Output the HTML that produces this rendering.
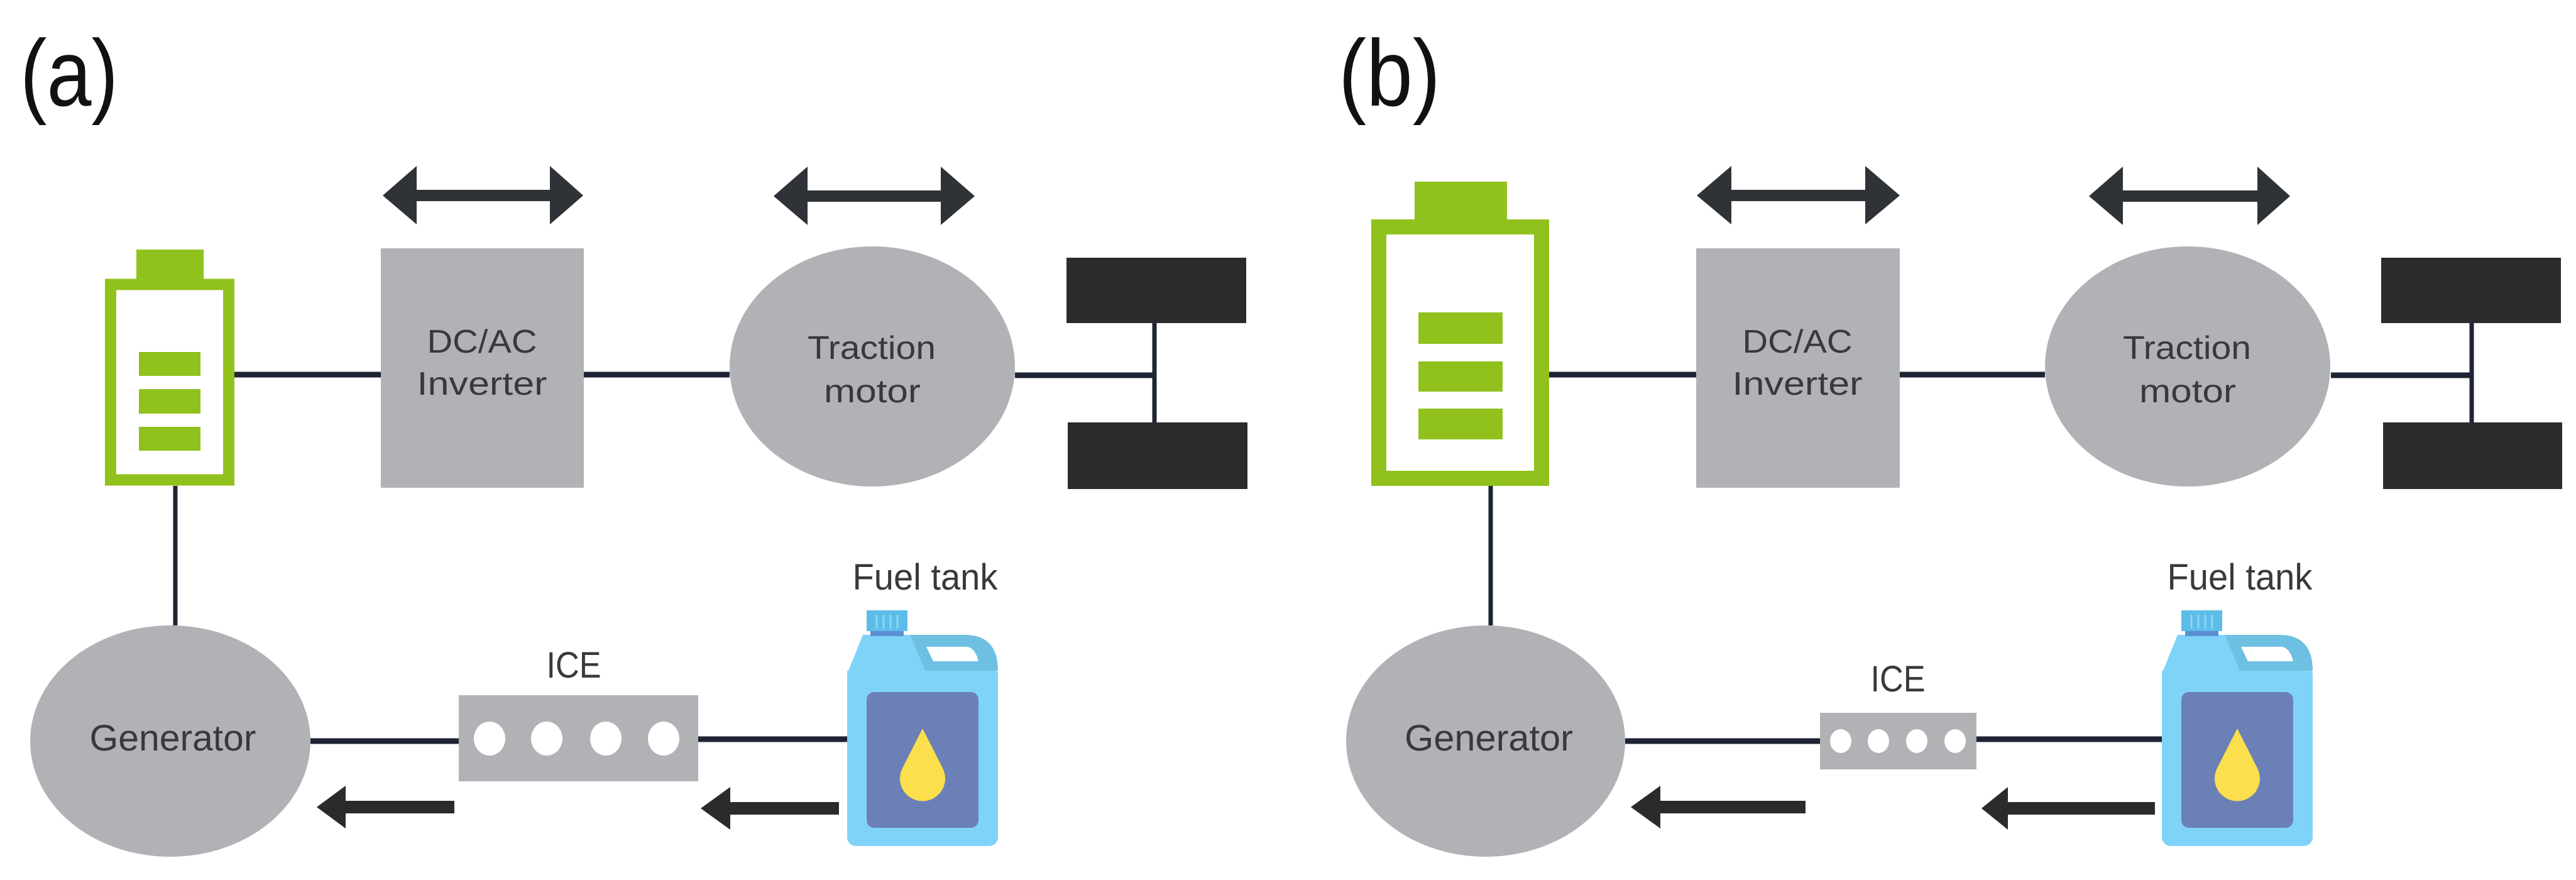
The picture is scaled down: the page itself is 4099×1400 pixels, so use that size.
<!DOCTYPE html>
<html><head><meta charset="utf-8"><style>
html,body{margin:0;padding:0;background:#fff;}
svg{display:block;}
text{font-family:"Liberation Sans",sans-serif;fill:#38393b;}
</style></head><body>
<svg width="4099" height="1400" viewBox="0 0 4099 1400" xmlns="http://www.w3.org/2000/svg">
<rect width="4099" height="1400" fill="#fff"/>
<defs>
<g id="tank">
  <rect x="1348" y="1060" width="240" height="286" rx="14" fill="#80d3f8"/>
  <polygon points="1348,1072 1373,1010 1450,1010 1472,1067 1348,1067" fill="#80d3f8"/>
  <path d="M1448,1010 L1535,1010 Q1588,1010 1588,1067 L1472,1067 Z" fill="#6ec0e2"/>
  <path d="M1474,1029 L1540,1029 Q1552,1032 1557,1052 L1485,1052 Z" fill="#fff"/>
  <rect x="1385" y="1003" width="53" height="9" fill="#5b8fd0"/>
  <rect x="1379" y="971" width="65" height="33" fill="#5dbde9"/>
  <g stroke="#8dd5f5" stroke-width="3">
    <line x1="1395" y1="978" x2="1395" y2="1000"/><line x1="1406" y1="978" x2="1406" y2="1000"/>
    <line x1="1417" y1="978" x2="1417" y2="1000"/><line x1="1428" y1="978" x2="1428" y2="1000"/>
  </g>
  <rect x="1379" y="1101" width="178" height="216" rx="12" fill="#6b80b6"/>
  <path d="M1468,1159 L1436,1222 A36,36 0 1 0 1500,1222 Z" fill="#fbdf4c"/>
</g>
</defs>

<!-- ========== PANEL A ========== -->
<text x="32" y="168" font-size="150" textLength="156" lengthAdjust="spacingAndGlyphs" style="fill:#111">(a)</text>

<!-- double arrows -->
<polygon points="609,311 663,264 663,302 875,302 875,264 928,311 875,357 875,320 663,320 663,357" fill="#2f3236"/>
<polygon points="1231,312 1285,265 1285,303 1497,303 1497,265 1551,312 1497,358 1497,321 1285,321 1285,358" fill="#2f3236"/>

<!-- connecting lines -->
<g stroke="#1e2434" stroke-width="9">
  <line x1="373" y1="596" x2="606" y2="596"/>
  <line x1="929" y1="596" x2="1161" y2="596"/>
  <line x1="1615" y1="597" x2="1837" y2="597"/>
  <line x1="494" y1="1179" x2="730" y2="1179"/>
  <line x1="1111" y1="1176" x2="1348" y2="1176"/>
</g>
<g stroke="#1e2434" stroke-width="7">
  <line x1="279" y1="773" x2="279" y2="995"/>
  <line x1="1837" y1="512" x2="1837" y2="674"/>
</g>

<!-- battery a -->
<rect x="217" y="397" width="107" height="47" fill="#90c11c"/>
<rect x="176" y="452.5" width="188" height="311" fill="none" stroke="#90c11c" stroke-width="18"/>
<rect x="221" y="560" width="98" height="38" fill="#90c11c"/>
<rect x="221" y="619" width="98" height="39" fill="#90c11c"/>
<rect x="221" y="679" width="98" height="38" fill="#90c11c"/>

<!-- inverter a -->
<rect x="606" y="395" width="323" height="381" fill="#b1b2b6"/>
<text x="767" y="561" font-size="52" text-anchor="middle" textLength="175" lengthAdjust="spacingAndGlyphs">DC/AC</text>
<text x="767" y="628" font-size="52" text-anchor="middle" textLength="207" lengthAdjust="spacingAndGlyphs">Inverter</text>

<!-- motor a -->
<ellipse cx="1388" cy="583" rx="227" ry="191" fill="#b1b2b6"/>
<text x="1387" y="571" font-size="52" text-anchor="middle" textLength="204" lengthAdjust="spacingAndGlyphs">Traction</text>
<text x="1388" y="640" font-size="52" text-anchor="middle" textLength="154" lengthAdjust="spacingAndGlyphs">motor</text>

<!-- wheels a -->
<rect x="1697" y="410" width="286" height="104" fill="#2b2b2b"/>
<rect x="1699" y="672" width="286" height="106" fill="#2b2b2b"/>

<!-- generator a -->
<ellipse cx="271" cy="1179" rx="223" ry="184" fill="#b1b2b6"/>
<text x="275" y="1194" font-size="58" text-anchor="middle" textLength="265" lengthAdjust="spacingAndGlyphs">Generator</text>

<!-- ICE a -->
<text x="913" y="1078" font-size="58" text-anchor="middle" textLength="87" lengthAdjust="spacingAndGlyphs">ICE</text>
<rect x="730" y="1106" width="381" height="137" fill="#b1b2b6"/>
<g fill="#fff">
  <ellipse cx="779" cy="1175" rx="25" ry="27"/><ellipse cx="870" cy="1175" rx="25" ry="27"/>
  <ellipse cx="964" cy="1175" rx="25" ry="27"/><ellipse cx="1056" cy="1175" rx="25" ry="27"/>
</g>

<!-- fuel tank a -->
<text x="1472" y="938" font-size="58" text-anchor="middle" textLength="231" lengthAdjust="spacingAndGlyphs">Fuel tank</text>
<use href="#tank"/>

<!-- flow arrows a -->
<polygon points="504,1284 550,1250 550,1274 723,1274 723,1294 550,1294 550,1318" fill="#2b2b2b"/>
<polygon points="1115,1286 1162,1252 1162,1276 1335,1276 1335,1296 1162,1296 1162,1320" fill="#2b2b2b"/>

<!-- ========== PANEL B ========== -->
<text x="2130" y="168" font-size="150" textLength="162" lengthAdjust="spacingAndGlyphs" style="fill:#111">(b)</text>

<polygon points="2700,311 2755,264 2755,302 2968,302 2968,264 3023,311 2968,357 2968,320 2755,320 2755,357" fill="#2f3236"/>
<polygon points="3324,312 3378,265 3378,303 3592,303 3592,265 3644,312 3592,358 3592,321 3378,321 3378,358" fill="#2f3236"/>

<g stroke="#1e2434" stroke-width="9">
  <line x1="2465" y1="596" x2="2699" y2="596"/>
  <line x1="3023" y1="596" x2="3254" y2="596"/>
  <line x1="3709" y1="597" x2="3933" y2="597"/>
  <line x1="2586" y1="1179" x2="2896" y2="1179"/>
  <line x1="3145" y1="1176" x2="3440" y2="1176"/>
</g>
<g stroke="#1e2434" stroke-width="7">
  <line x1="2372" y1="773" x2="2372" y2="995"/>
  <line x1="3933" y1="512" x2="3933" y2="674"/>
</g>

<!-- battery b -->
<rect x="2251" y="289" width="147" height="62" fill="#90c11c"/>
<rect x="2194" y="361" width="259" height="400" fill="none" stroke="#90c11c" stroke-width="24"/>
<rect x="2257" y="497" width="134" height="50" fill="#90c11c"/>
<rect x="2257" y="575" width="134" height="48" fill="#90c11c"/>
<rect x="2257" y="650" width="134" height="49" fill="#90c11c"/>

<rect x="2699" y="395" width="324" height="381" fill="#b1b2b6"/>
<text x="2860" y="561" font-size="52" text-anchor="middle" textLength="175" lengthAdjust="spacingAndGlyphs">DC/AC</text>
<text x="2860" y="628" font-size="52" text-anchor="middle" textLength="207" lengthAdjust="spacingAndGlyphs">Inverter</text>

<ellipse cx="3481" cy="583" rx="227" ry="191" fill="#b1b2b6"/>
<text x="3480" y="571" font-size="52" text-anchor="middle" textLength="204" lengthAdjust="spacingAndGlyphs">Traction</text>
<text x="3481" y="640" font-size="52" text-anchor="middle" textLength="154" lengthAdjust="spacingAndGlyphs">motor</text>

<rect x="3789" y="410" width="286" height="104" fill="#2b2b2b"/>
<rect x="3792" y="672" width="285" height="106" fill="#2b2b2b"/>

<ellipse cx="2364" cy="1179" rx="222" ry="184" fill="#b1b2b6"/>
<text x="2369" y="1194" font-size="58" text-anchor="middle" textLength="268" lengthAdjust="spacingAndGlyphs">Generator</text>

<text x="3020" y="1100" font-size="58" text-anchor="middle" textLength="87" lengthAdjust="spacingAndGlyphs">ICE</text>
<rect x="2896" y="1134" width="249" height="90" fill="#b1b2b6"/>
<g fill="#fff">
  <ellipse cx="2929" cy="1179" rx="17" ry="19"/><ellipse cx="2989" cy="1179" rx="17" ry="19"/>
  <ellipse cx="3050" cy="1179" rx="17" ry="19"/><ellipse cx="3111" cy="1179" rx="17" ry="19"/>
</g>

<text x="3564" y="938" font-size="58" text-anchor="middle" textLength="231" lengthAdjust="spacingAndGlyphs">Fuel tank</text>
<use href="#tank" transform="translate(2092,0)"/>

<polygon points="2595,1284 2642,1250 2642,1274 2873,1274 2873,1294 2642,1294 2642,1318" fill="#2b2b2b"/>
<polygon points="3153,1286 3195,1252 3195,1276 3429,1276 3429,1296 3195,1296 3195,1320" fill="#2b2b2b"/>
</svg>
</body></html>
